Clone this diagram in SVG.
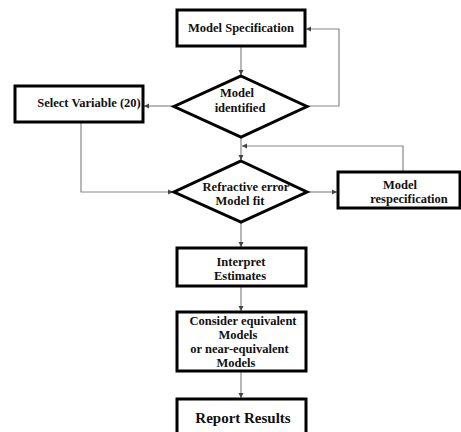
<svg xmlns="http://www.w3.org/2000/svg" width="461" height="432" viewBox="0 0 461 432">
<defs>
<marker id="ah" markerWidth="6" markerHeight="6" refX="5" refY="3" orient="auto" markerUnits="userSpaceOnUse">
<path d="M0,0.5 L5,3 L0,5.5 Z" fill="#444"/>
</marker>
<style>
.box{fill:#fff;stroke:#000;stroke-width:3}
.t{font-weight:bold;font-size:12.5px;fill:#111}
.c{fill:none;stroke:#888;stroke-width:1.2;marker-end:url(#ah)}
</style>
</defs>
<rect width="461" height="432" fill="#fff"/>
<g id="connectors">
<path class="c" d="M241,46 V75"/>
<path class="c" d="M307,106 H339 V29 H306"/>
<path class="c" d="M174,106 H144"/>
<path class="c" d="M81,122 V192 H173"/>
<path class="c" d="M241,137 V160"/>
<path class="c" d="M403,172 V146 H242"/>
<path class="c" d="M307,192 H337"/>
<path class="c" d="M241,222 V247"/>
<path class="c" d="M241,286 V311"/>
<path class="c" d="M241,371 V398"/>
</g>
<g font-family="Liberation Serif, Times New Roman, DejaVu Serif, serif">
<g id="model-specification">
<rect class="box" x="177" y="10" width="128" height="36"/>
<text class="t" x="241" y="32" text-anchor="middle">Model Specification</text>
</g>
<g id="model-identified">
<polygon class="box" points="241,76 307,106.5 241,137 174,106.5"/>
<text class="t" x="237" y="97" text-anchor="middle">Model</text>
<text class="t" x="240" y="112" text-anchor="middle">identified</text>
</g>
<g id="select-variable">
<rect class="box" x="15" y="86" width="128" height="36"/>
<text class="t" x="89" y="107" text-anchor="middle">Select Variable (20)</text>
</g>
<g id="refractive-error">
<polygon class="box" points="241,161 307,192 241,222 174,192"/>
<text class="t" x="246" y="191" text-anchor="middle">Refractive error</text>
<text class="t" x="240" y="205" text-anchor="middle">Model fit</text>
</g>
<g id="model-respecification">
<rect class="box" x="338" y="172" width="122" height="36"/>
<text class="t" x="400" y="189" text-anchor="middle">Model</text>
<text class="t" x="409" y="203" text-anchor="middle">respecification</text>
</g>
<g id="interpret-estimates">
<rect class="box" x="177" y="248" width="129" height="38"/>
<text class="t" x="241" y="266" text-anchor="middle">Interpret</text>
<text class="t" x="240" y="280" text-anchor="middle">Estimates</text>
</g>
<g id="consider-equivalent">
<rect class="box" x="177" y="312" width="129" height="59"/>
<text class="t" x="243" y="325" text-anchor="middle">Consider equivalent</text>
<text class="t" x="238" y="339" text-anchor="middle">Models</text>
<text class="t" x="239.5" y="353" text-anchor="middle">or near-equivalent</text>
<text class="t" x="236" y="367" text-anchor="middle">Models</text>
</g>
<g id="report-results">
<rect class="box" x="177" y="399" width="129" height="40"/>
<text class="t" x="243" y="423" text-anchor="middle" style="font-size:15px">Report Results</text>
</g>
</g>
</svg>
